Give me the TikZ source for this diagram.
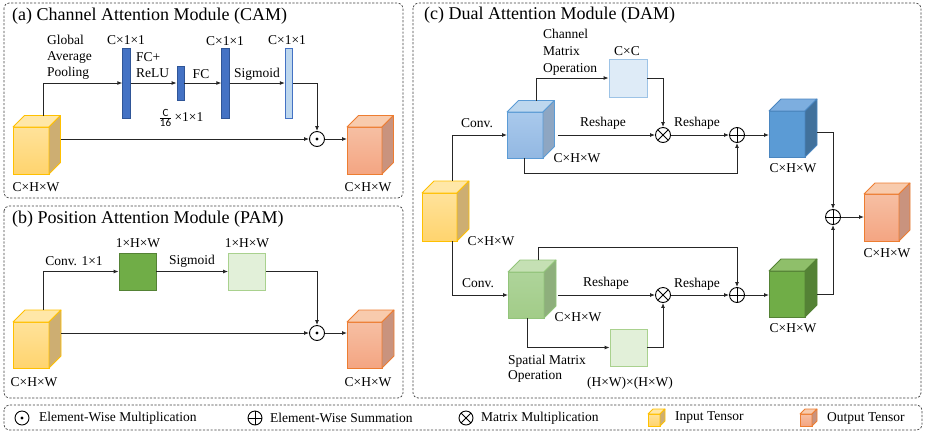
\documentclass[tikz,border=0pt]{standalone}
\usepackage{fontspec}
\setmainfont{Liberation Serif}
\newfontfamily\calfont{Carlito}
\usetikzlibrary{arrows.meta,calc}
\definecolor{lineC}{HTML}{262626}
\definecolor{panelC}{HTML}{404040}
% cube colour schemes: F1 top of front, F2 bottom of front, T top face, S side face, B border
\definecolor{inF1}{HTML}{FFE29A}\definecolor{inF2}{HTML}{FFD46E}\definecolor{inT}{HTML}{FFE7A8}\definecolor{inS}{HTML}{CDAE72}\definecolor{inB}{HTML}{FFC000}
\definecolor{outF1}{HTML}{F6BFA3}\definecolor{outF2}{HTML}{F4A582}\definecolor{outT}{HTML}{F8CBAD}\definecolor{outS}{HTML}{C9937E}\definecolor{outB}{HTML}{ED7D31}
\definecolor{blaF1}{HTML}{A9C9EC}\definecolor{blaF2}{HTML}{92B8E2}\definecolor{blaT}{HTML}{BDD7EE}\definecolor{blaS}{HTML}{8EA6C2}\definecolor{blaB}{HTML}{5B9BD5}
\definecolor{blbF1}{HTML}{5B9BD5}\definecolor{blbF2}{HTML}{5B9BD5}\definecolor{blbT}{HTML}{7DAEDF}\definecolor{blbS}{HTML}{41719C}\definecolor{blbB}{HTML}{4A86C0}
\definecolor{graF1}{HTML}{AED49A}\definecolor{graF2}{HTML}{A2CC88}\definecolor{graT}{HTML}{C5E0B4}\definecolor{graS}{HTML}{8EAF7C}\definecolor{graB}{HTML}{92C47A}
\definecolor{grbF1}{HTML}{70AD47}\definecolor{grbF2}{HTML}{70AD47}\definecolor{grbT}{HTML}{8FBF6A}\definecolor{grbS}{HTML}{548235}\definecolor{grbB}{HTML}{548235}
\definecolor{barDark}{HTML}{4472C4}\definecolor{barDarkB}{HTML}{2F5597}
\definecolor{barLight}{HTML}{BDD7EE}\definecolor{barLightB}{HTML}{4472C4}
\definecolor{sqGreen}{HTML}{70AD47}\definecolor{sqGreenB}{HTML}{548235}
\definecolor{sqLGreen}{HTML}{E2F0D9}\definecolor{sqLGreenB}{HTML}{A9D18E}
\definecolor{sqLBlue}{HTML}{DEEBF7}\definecolor{sqLBlueB}{HTML}{9DC3E6}
% name, front centre, width, height, depth, scheme
\newcommand\mycube[6]{%
  \node[draw=#6B, top color=#6F1, bottom color=#6F2, minimum width=#3pt, minimum height=#4pt,
        inner sep=0pt, outer sep=0pt, line width=0.8pt] (#1) at (#2) {};
  \filldraw[fill=#6T, draw=#6B, line width=0.8pt, line join=round]
    (#1.north west) -- ++(#5,#5) -- ++(#3,0) -- (#1.north east) -- cycle;
  \filldraw[fill=#6S, draw=#6B, line width=0.8pt, line join=round]
    (#1.north east) -- ++(#5,#5) -- ++(0,-#4) -- (#1.south east) -- cycle;
}
\begin{document}
\begin{tikzpicture}[x=1pt,y=1pt,
  panel/.style={draw=panelC, line width=0.7pt, dash pattern=on 2.2pt off 1.6pt, rounded corners=5pt},
  title/.style={font=\fontsize{18}{20}\selectfont, inner sep=0pt, anchor=west},
  lbl/.style={font=\fontsize{13.5}{16}\selectfont, inner sep=0pt},
  lgd/.style={font=\fontsize{13.5}{16}\selectfont, inner sep=0pt, anchor=west},
  arr/.style={draw=lineC, line width=0.9pt, -{Latex[length=5pt,width=4pt]}},
  bar/.style={rectangle, inner sep=0pt, minimum width=7.5pt, line width=0.8pt},
  sq/.style={rectangle, inner sep=0pt, minimum size=37pt, line width=0.8pt},
  opc/.style={circle, draw=black, line width=0.9pt, minimum size=15pt, inner sep=0pt, fill=white},
  odotn/.style={opc, path picture={\fill[black] (path picture bounding box.center) circle (1.6pt);}},
  oplusn/.style={opc, path picture={\draw[black, line width=0.9pt] (path picture bounding box.north) -- (path picture bounding box.south)
      (path picture bounding box.west) -- (path picture bounding box.east);}},
  otimesn/.style={opc, path picture={\draw[black, line width=0.9pt]
      ([shift={(45:8pt)}]path picture bounding box.center) -- ([shift={(225:8pt)}]path picture bounding box.center)
      ([shift={(135:8pt)}]path picture bounding box.center) -- ([shift={(315:8pt)}]path picture bounding box.center);}}
]
\useasboundingbox (0,0) rectangle (926,-432);

% ---------- panels ----------
\draw[panel] (4,-3) rectangle (403,-198);
\draw[panel] (4,-206) rectangle (403,-398);
\draw[panel] (413,-3) rectangle (921,-398);
\draw[panel] (4,-405) rectangle (922,-430);
\node[title] (ta) at (12,-16) {(a) Channel Attention Module (CAM)};
\node[title] (tb) at (12,-219) {(b) Position Attention Module (PAM)};
\node[title] (tc) at (424,-15) {(c) Dual Attention Module (DAM)};

% ---------- (a) CAM ----------
\mycube{ain}{31,-150.5}{36}{47}{11.5}{in}
\mycube{aout}{364.5,-150.5}{35}{47}{11.5}{out}
\node[lbl] (ainl) at (36,-187) {C×H×W};
\node[lbl] (aoutl) at (368,-187) {C×H×W};
\node[bar, fill=barDark, draw=barDarkB, minimum height=70pt] (bar1) at (126.5,-83) {};
\node[bar, fill=barDark, draw=barDarkB, minimum height=34pt, minimum width=7pt] (bar2) at (180.5,-83) {};
\node[bar, fill=barDark, draw=barDarkB, minimum height=70pt] (bar3) at (225.5,-83) {};
\node[bar, fill=barLight, draw=barLightB, minimum height=70pt] (bar4) at (289,-83) {};
\node[odotn] (aodot) at (317,-139) {};
\node[lbl, anchor=west, align=left] (gap) at (47,-57) {Global\\Average\\Pooling};
\node[lbl] (c1) at (126,-40) {C×1×1};
\node[lbl] (c3) at (225,-41) {C×1×1};
\node[lbl] (c4) at (287,-40) {C×1×1};
\node[lbl, anchor=west, align=left] (fcr) at (136,-65) {FC+\\ReLU};
\node[lbl] (fc) at (201,-74) {FC};
\node[lbl] (sga) at (257,-74) {Sigmoid};
\node[lbl] (c2) at (181,-118) {$\frac{\hbox{\calfont\fontsize{11}{11}\selectfont C}}{\hbox{\calfont\fontsize{11}{11}\selectfont 16}}$\,×1×1};
\coordinate (ainTop) at ($(ain.north west)+(30,11.5)$);
\coordinate (ainR) at ($(ain.east)+(11.5,0)$);
\draw[arr] (ainTop) |- (bar1.west);
\draw[arr] (bar1.east) -- (bar2.west);
\draw[arr] (bar2.east) -- (bar3.west);
\draw[arr] (bar3.east) -- (bar4.west);
\draw[arr] (bar4.east) -| (aodot.north);
\draw[arr] (aodot -| ainR) -- (aodot.west);
\draw[arr] (aodot.east) -- (aodot -| aout.west);

% ---------- (b) PAM ----------
\mycube{bin}{31,-345}{36}{46}{12}{in}
\mycube{bout}{364.5,-345}{35}{46}{12}{out}
\node[lbl] (binl) at (34,-382) {C×H×W};
\node[lbl] (boutl) at (368,-382) {C×H×W};
\node[sq, fill=sqGreen, draw=sqGreenB] (gsq) at (137.5,-271.5) {};
\node[sq, fill=sqLGreen, draw=sqLGreenB] (lgsq) at (247,-271.5) {};
\node[odotn] (bodot) at (317,-333) {};
\node[lbl] (hw1) at (138,-243) {1×H×W};
\node[lbl] (hw2) at (247,-243) {1×H×W};
\node[lbl] (cv11) at (74,-261) {Conv. 1×1};
\node[lbl] (sgb) at (192,-261) {Sigmoid};
\coordinate (binTop) at ($(bin.north west)+(30,12)$);
\coordinate (binR) at ($(bin.east)+(12,0)$);
\draw[arr] (binTop) |- (gsq.west);
\draw[arr] (gsq.east) -- (lgsq.west);
\draw[arr] (lgsq.east) -| (bodot.north);
\draw[arr] (bodot -| binR) -- (bodot.west);
\draw[arr] (bodot.east) -- (bodot -| bout.west);

% ---------- (c) DAM ----------
\mycube{cin}{439.5,-217}{35}{48}{12}{in}
\mycube{cout}{881.5,-217.5}{35}{47}{11}{out}
\mycube{blue1}{525,-135}{36}{46}{11.5}{bla}
\mycube{blue2}{787,-134}{36}{46}{12}{blb}
\mycube{green1}{526,-295}{36}{46}{12}{gra}
\mycube{green2}{787,-294}{36}{46}{12}{grb}
\node[sq, minimum size=38pt, fill=sqLBlue, draw=sqLBlueB] (ccsq) at (628,-78) {};
\node[sq, fill=sqLGreen, draw=sqLGreenB] (hwsq) at (628.5,-347.5) {};
\node[otimesn] (ot1) at (663,-135) {};
\node[oplusn] (op1) at (737,-135) {};
\node[otimesn] (ot2) at (663,-295) {};
\node[oplusn] (op2) at (737,-295) {};
\node[oplusn] (opf) at (833,-217) {};
% labels
\node[lbl] (cinl) at (491,-241) {C×H×W};
\node[lbl] (coutl) at (887,-253) {C×H×W};
\node[lbl] (b1l) at (577,-158) {C×H×W};
\node[lbl] (b2l) at (793,-168) {C×H×W};
\node[lbl] (g1l) at (578,-317) {C×H×W};
\node[lbl] (g2l) at (793,-328) {C×H×W};
\node[lbl] (conv1) at (477,-123) {Conv.};
\node[lbl] (conv2) at (478,-283) {Conv.};
\node[lbl] (rs1) at (603,-123) {Reshape};
\node[lbl] (rs2) at (697,-123) {Reshape};
\node[lbl] (rs3) at (606,-283) {Reshape};
\node[lbl] (rs4) at (697,-284) {Reshape};
\node[lbl, anchor=west, align=left, font=\fontsize{13.5}{17}\selectfont] (cmo) at (543,-52) {Channel\\Matrix\\Operation};
\node[lbl] (ccl) at (627,-51.5) {C×C};
\node[lbl, anchor=west, align=left, font=\fontsize{13.5}{15.5}\selectfont] (smo) at (508,-368.5) {Spatial Matrix\\Operation};
\node[lbl] (hwl) at (630,-383) {(H×W)×(H×W)};
% connectors
\coordinate (cinTop) at ($(cin.north west)+(30,12)$);
\coordinate (cinBot) at ($(cin.south west)+(30,0)$);
\draw[arr] (cinTop) |- (blue1.west);
\draw[arr] (cinBot) |- (green1.west);
\coordinate (b1R) at ($(blue1.east)+(15,0)$);
\coordinate (b1Top) at ($(blue1.north west)+(29,11.5)$);
\coordinate (b1Bot) at ($(blue1.south west)+(17,0)$);
\draw[arr] (b1R) -- (ot1.west);
\draw[arr] (b1Top) |- (ccsq.west);
\draw[arr] (ccsq.east) -| (ot1.north);
\draw[arr] (ot1.east) -- (op1.west);
\draw[arr] (b1Bot) -- ++(0,-15) -| (op1.south);
\draw[arr] (op1.east) -- (op1 -| blue2.west);
\coordinate (b2R) at ($(blue2.east)+(12,2)$);
\draw[arr] (b2R) -| (opf.north);
\coordinate (g2R) at ($(green2.east)+(12,0)$);
\draw[arr] (g2R) -| (opf.south);
\draw[arr] (opf.east) -- (opf -| cout.west);
\coordinate (g1R) at ($(green1.east)+(14,0)$);
\coordinate (g1Top) at ($(green1.north west)+(30,12)$);
\coordinate (g1Bot) at ($(green1.south west)+(19,0)$);
\draw[arr] (g1R) -- (ot2.west);
\draw[arr] (ot2.east) -- (op2.west);
\draw[arr] (op2.east) -- (op2 -| green2.west);
\draw[arr] (g1Top) -- ++(0,13) -| (op2.north);
\draw[arr] (g1Bot) |- (hwsq.west);
\draw[arr] (hwsq.east) -| (ot2.south);

% ---------- legend ----------
\node[odotn, minimum size=14pt] (lg1) at (22,-418) {};
\node[lgd] (lg1t) at (39,-418) {Element-Wise Multiplication};
\node[oplusn, minimum size=14pt] (lg2) at (255,-418) {};
\node[lgd] (lg2t) at (270,-418) {Element-Wise Summation};
\node[otimesn, minimum size=14pt] (lg3) at (466,-418) {};
\node[lgd] (lg3t) at (481,-418) {Matrix Multiplication};
\mycube{lg4}{654,-420}{12}{12}{5}{in}
\node[lgd] (lg4t) at (675,-418) {Input Tensor};
\mycube{lg5}{806,-420}{12}{12}{5}{out}
\node[lgd] (lg5t) at (827,-418) {Output Tensor};
\end{tikzpicture}
\end{document}
